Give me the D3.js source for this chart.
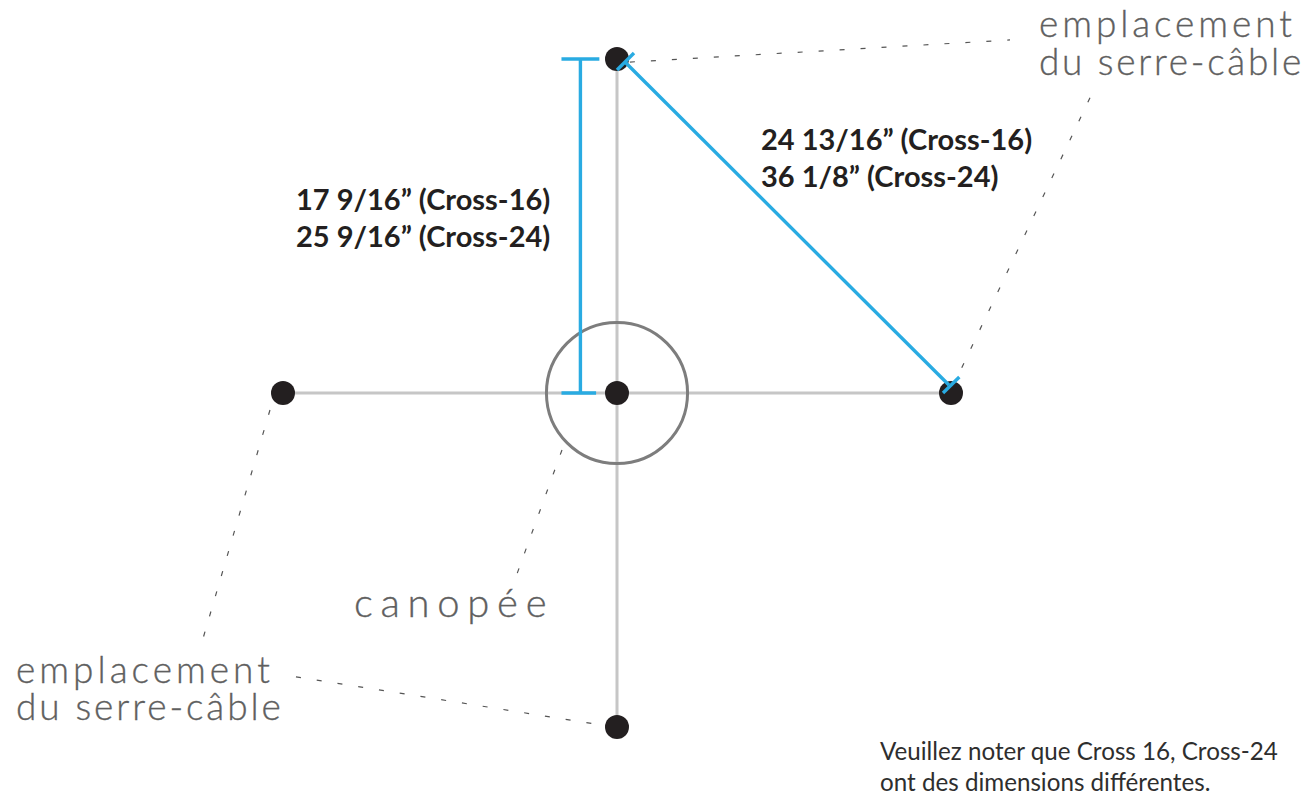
<!DOCTYPE html>
<html>
<head>
<meta charset="utf-8">
<script src="https://cdn.jsdelivr.net/npm/d3@7"></script>
<style>
  html, body { margin: 0; background: #fff; }
  svg { display: block; }
  .thin { font-family: Lato, sans-serif; font-weight: 300; fill: #5f5f5f; stroke: #5f5f5f; stroke-width: 0.35px; }
  .dim { font-family: Lato, sans-serif; font-weight: 700; font-size: 29px; fill: #231f20; }
  .note { font-family: Lato, sans-serif; font-size: 24.2px; fill: #2e2e2e; }
</style>
</head>
<body>
<div id="chart"></div>
<script>
// everything in inches, measured from the canopy centre (Cross-24 size)
const armLength = 25.5625;
const canopyRadius = 5.4;
const nodes = [[0, 0], [0, armLength], [armLength, 0], [-armLength, 0], [0, -armLength]];
const arms = [[[-armLength, 0], [armLength, 0]], [[0, -armLength], [0, armLength]]];

const verticalDim = [[-2.8, armLength], [-2.8, 0]];
const verticalCaps = [[[-4.25, armLength], [-1.35, armLength]], [[-4.25, 0], [-1.6, 0]]];
const diagonalDim = [[0.61, 25.33], [25.4, 0.61]];
const diagonalCaps = [[[0, 24.72], [1.3, 26.02]], [[24.95, 0], [26.2, 1.22]]];

const leaders = [
  [[0.99, 25.33], [30.08, 27.02]],
  [[36.2, 22.6], [25.87, 0.84]],
  [[-26.56, -1.3], [-31.68, -18.77]],
  [[-24.57, -21.72], [-1.3, -25.39]],
  [[-4.21, -4.36], [-7.96, -14.69]]
];

const cableLabel = ['emplacement', 'du serre-câble'];
const canopyLabel = 'canopée';
const verticalLabel = ['17 9/16” (Cross-16)', '25 9/16” (Cross-24)'];
const diagonalLabel = ['24 13/16” (Cross-16)', '36 1/8” (Cross-24)'];
const noteLabel = ['Veuillez noter que Cross 16, Cross-24', 'ont des dimensions différentes.'];

const width = 1309, height = 800;

const x = d3.scaleLinear().domain([-armLength, armLength]).range([283, 951]);
const y = d3.scaleLinear().domain([-armLength, armLength]).range([727, 59]);
const line = d3.line().x(d => x(d[0])).y(d => y(d[1]));

const svg = d3.select('#chart').append('svg')
  .attr('width', width)
  .attr('height', height);

svg.selectAll('.arm').data(arms).enter().append('path')
  .attr('class', 'arm')
  .attr('d', line)
  .attr('fill', 'none')
  .attr('stroke', '#c6c6c6')
  .attr('stroke-width', 3);

svg.selectAll('.leader').data(leaders).enter().append('path')
  .attr('class', 'leader')
  .attr('d', line)
  .attr('fill', 'none')
  .attr('stroke', '#555')
  .attr('stroke-width', 1.2)
  .attr('stroke-dasharray', '5 16');

svg.append('circle')
  .attr('cx', x(0))
  .attr('cy', y(0))
  .attr('r', x(canopyRadius) - x(0))
  .attr('fill', 'none')
  .attr('stroke', '#7d7d7d')
  .attr('stroke-width', 3);

svg.selectAll('.node').data(nodes).enter().append('circle')
  .attr('class', 'node')
  .attr('cx', d => x(d[0]))
  .attr('cy', d => y(d[1]))
  .attr('r', 12)
  .attr('fill', '#231f20');

svg.selectAll('.dim-line')
  .data([verticalDim, diagonalDim, ...verticalCaps, ...diagonalCaps])
  .enter().append('path')
  .attr('class', 'dim-line')
  .attr('d', line)
  .attr('fill', 'none')
  .attr('stroke', '#29abe2')
  .attr('stroke-width', 3.4);

function addLines(lines, cls, left, baselines, size, spacings) {
  lines.forEach((t, i) => {
    const txt = svg.append('text')
      .attr('class', cls)
      .attr('x', left)
      .attr('y', baselines[i])
      .text(t);
    if (size) txt.style('font-size', size + 'px');
    if (spacings) txt.style('letter-spacing', spacings[i] + 'px');
  });
}

addLines(cableLabel, 'thin', 1039, [37, 75], 37, [3.9, 2.7]);
addLines(cableLabel, 'thin', 16, [683, 720], 37, [4, 2.9]);
addLines([canopyLabel], 'thin', 354, [617], 40, [7.7]);
addLines(verticalLabel, 'dim', 296, [210, 247]);
addLines(diagonalLabel, 'dim', 761, [150, 187]);
addLines(noteLabel, 'note', 880, [760, 791]);
</script>
</body>
</html>
